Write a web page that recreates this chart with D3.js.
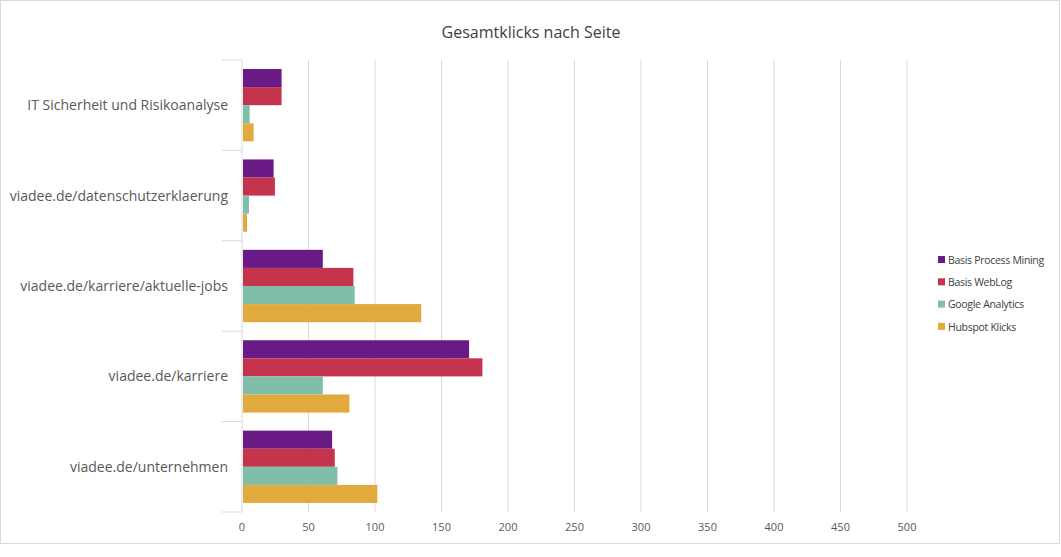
<!DOCTYPE html>
<html><head><meta charset="utf-8">
<script src="https://cdn.jsdelivr.net/npm/d3@7/dist/d3.min.js"></script>
<style>body{margin:0;background:#fff;font-family:"Open Sans",sans-serif;}</style>
</head><body><div id="chart"></div>
<script>
const pages = ["IT Sicherheit und Risikoanalyse", "viadee.de/datenschutzerklaerung", "viadee.de/karriere/aktuelle-jobs", "viadee.de/karriere", "viadee.de/unternehmen"];
const seriesNames = ["Basis Process Mining", "Basis WebLog", "Google Analytics", "Hubspot Klicks"];
const processMining = [29, 23, 60, 170, 67];
const webLog = [29, 24, 83, 180, 69];
const googleAnalytics = [5, 4.5, 84, 60, 71];
const hubspot = [8, 3, 134, 80, 101];
const ticks = [0, 50, 100, 150, 200, 250, 300, 350, 400, 450, 500];
const colors = ["#6a1a84", "#c5344d", "#7fbfaa", "#e0aa3e"];

const w = 1061, h = 557;
const margin = {left: 242, right: 154, top: 60, bottom: 45};
const svg = d3.select("#chart").append("svg").attr("width", w).attr("height", h);

svg.append("rect").attr("x", 0.5).attr("y", 0.5).attr("width", 1059).attr("height", 543)
    .attr("fill", "#fff").attr("stroke", "#d9d9d9");

svg.append("text").attr("x", 531).attr("y", 38).attr("text-anchor", "middle")
    .attr("font-size", "16px").attr("fill", "#404040").text("Gesamtklicks nach Seite");

const xScale = d3.scaleLinear().domain([0, 500]).range([margin.left, 907]);
const yScale = d3.scaleBand().domain(pages).range([margin.top, h - margin.bottom]).paddingInner(0.2).paddingOuter(0.1);
const sub = d3.scaleBand().domain(seriesNames).range([0, yScale.bandwidth()]);

// gridlines
svg.append("g").selectAll("line").data(ticks.slice(1)).enter().append("line")
    .attr("x1", d => xScale(d)).attr("x2", d => xScale(d))
    .attr("y1", margin.top).attr("y2", h - margin.bottom)
    .attr("stroke", "#d9d9d9");

// category separators on y axis
const step = yScale.step();
svg.append("g").selectAll("line").data(d3.range(pages.length + 1)).enter().append("line")
    .attr("x1", margin.left - 20).attr("x2", margin.left)
    .attr("y1", i => margin.top + i * step).attr("y2", i => margin.top + i * step)
    .attr("stroke", "#d9d9d9");

const data = pages.map((p, i) => ({page: p, values: [processMining[i], webLog[i], googleAnalytics[i], hubspot[i]]}));

const groups = svg.selectAll(".grp").data(data).enter().append("g")
    .attr("transform", d => `translate(0, ${yScale(d.page)})`);

groups.selectAll("rect").data(d => d.values.map((v, j) => ({name: seriesNames[j], value: v, j: j})))
    .enter().append("rect")
    .attr("x", xScale(0) + 1)
    .attr("y", d => sub(d.name))
    .attr("height", sub.bandwidth())
    .attr("width", d => xScale(d.value) - xScale(0))
    .attr("fill", d => colors[d.j]);

svg.append("line").attr("x1", margin.left).attr("x2", margin.left)
    .attr("y1", margin.top).attr("y2", h - margin.bottom).attr("stroke", "#d9d9d9");

svg.append("g").selectAll("text").data(pages).enter().append("text")
    .attr("x", margin.left - 14).attr("y", d => yScale(d) + yScale.bandwidth() / 2)
    .attr("dy", "0.35em").attr("text-anchor", "end")
    .attr("font-size", "14px").attr("fill", "#595959").text(d => d);

svg.append("g").selectAll("text").data(ticks).enter().append("text")
    .attr("x", d => xScale(d)).attr("y", 531).attr("text-anchor", "middle")
    .attr("font-size", "11px").attr("fill", "#595959").text(d => d);

const legend = svg.append("g").selectAll("g").data(seriesNames).enter().append("g")
    .attr("transform", (d, i) => `translate(938, ${260 + i * 22.3})`);
legend.append("rect").attr("x", 0).attr("y", -4).attr("width", 7).attr("height", 7).attr("fill", (d, i) => colors[i]);
legend.append("text").attr("x", 10).attr("y", 0).attr("dy", "0.35em")
    .attr("font-size", "10.5px").attr("letter-spacing", "-0.3px").attr("fill", "#404040").text(d => d);
</script></body></html>
